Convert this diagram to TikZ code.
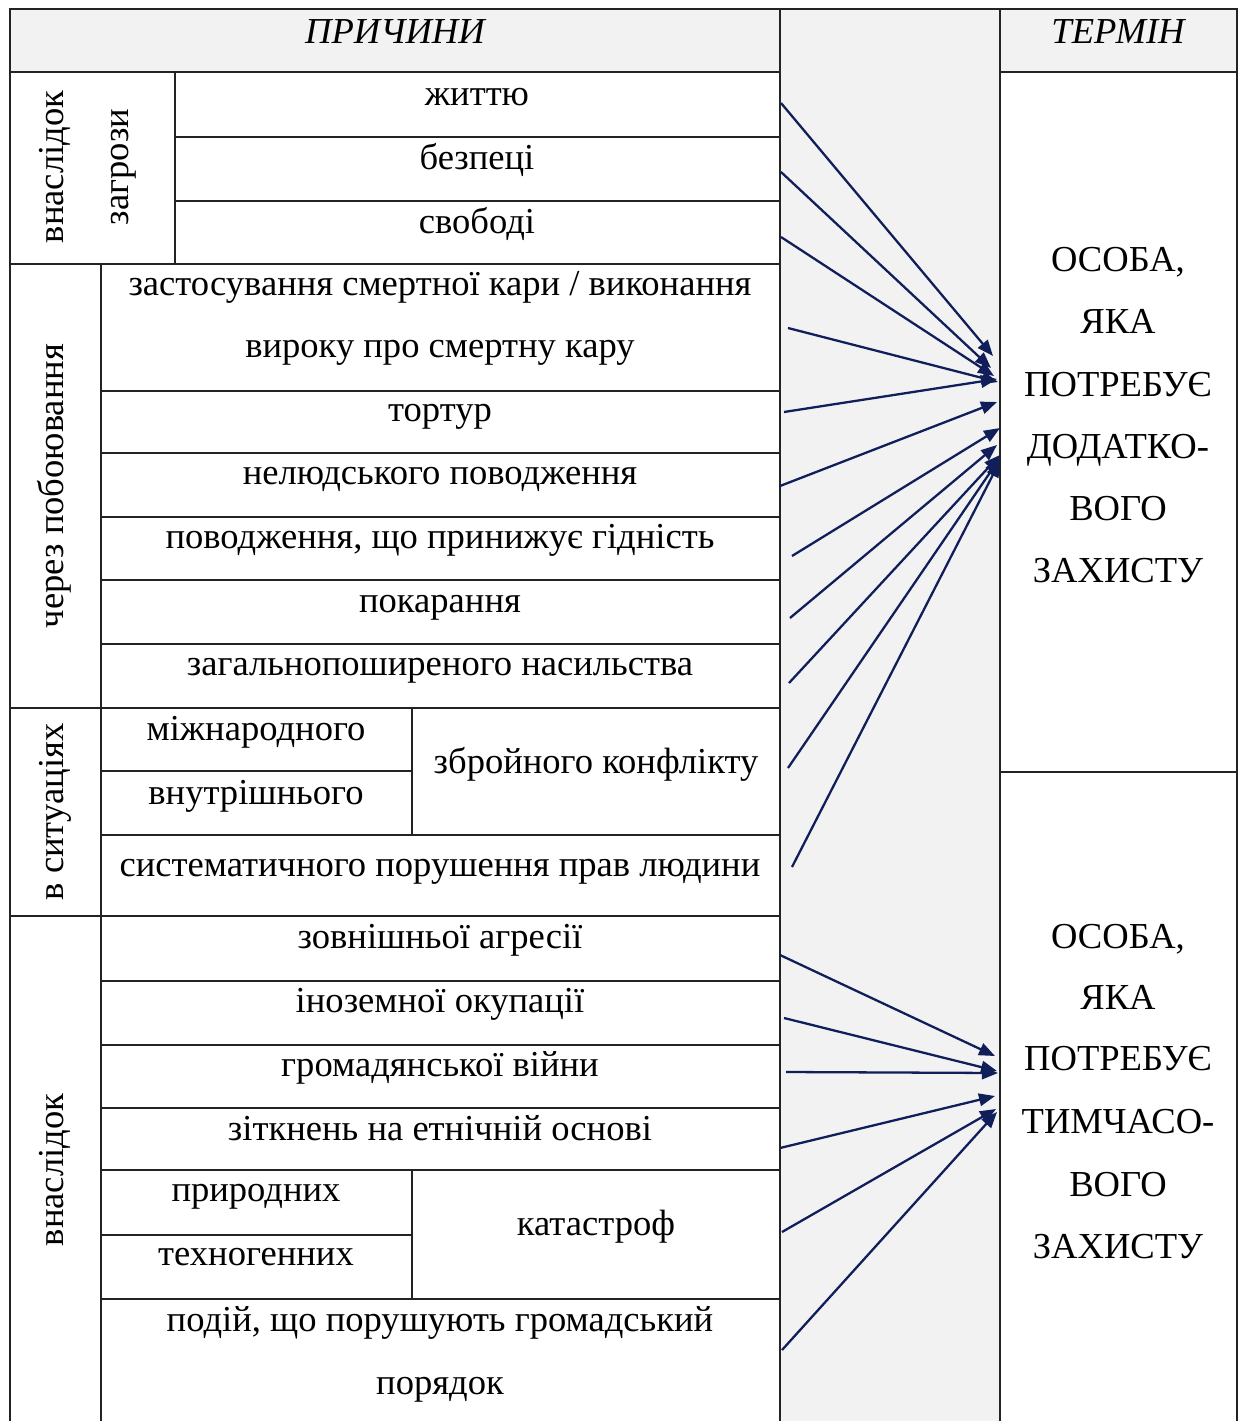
\documentclass[tikz,border=0pt]{standalone}
\usepackage{fontspec}
\setmainfont{Liberation Serif}
\usetikzlibrary{arrows.meta}
\definecolor{gridline}{RGB}{35,35,35}
\definecolor{cellgrey}{RGB}{242,242,242}
\definecolor{arrowblue}{RGB}{16,30,90}

\begin{document}
\begin{tikzpicture}[x=0.01cm,y=-0.01cm,
  rule/.style={draw=gridline,line width=0.7pt},
  celltext/.style={anchor=base,inner sep=0pt,font=\fontsize{10.4}{12}\selectfont},
  sidetext/.style={celltext,rotate=90},
  headtext/.style={celltext,font=\fontsize{10.4}{12}\selectfont\itshape},
  link/.style={draw=arrowblue,line width=0.65pt,-{Triangle[length=1.6mm,width=1.25mm]}}
]
\useasboundingbox (0,0) rectangle (1240,1421);
\fill[white] (0,0) rectangle (1240,1421);

% shaded header cells and the middle column
\fill[cellgrey] (10,9) rectangle (780,72);
\fill[cellgrey] (780,9) rectangle (1000,1421);
\fill[cellgrey] (1000,9) rectangle (1237,72);

% table frame (the table runs on past the lower edge)
\draw[rule] (10,1421) -- (10,9) -- (1237,9) -- (1237,1421);
\draw[rule] (780,9) -- (780,1421);
\draw[rule] (1000,9) -- (1000,1421);
\draw[rule] (10,72) -- (780,72);
\draw[rule] (1000,72) -- (1237,72);
\draw[rule] (1000,772) -- (1237,772);

% group borders
\foreach \y in {264,708,916} \draw[rule] (10,\y) -- (780,\y);

% first group
\draw[rule] (175,72) -- (175,264);
\foreach \y in {137,201} \draw[rule] (175,\y) -- (780,\y);

% remaining groups
\draw[rule] (101,264) -- (101,1421);
\foreach \y in {391,453,517,580,644,835,981,1045,1108,1170,1299} \draw[rule] (101,\y) -- (780,\y);
\draw[rule] (101,771) -- (412,771);
\draw[rule] (412,708) -- (412,835);
\draw[rule] (101,1235) -- (412,1235);
\draw[rule] (412,1170) -- (412,1299);

% headers
\node[headtext] (hcause) at (395,44) {ПРИЧИНИ};
\node[headtext] (hterm) at (1118,44) {ТЕРМІН};

% rotated group labels
\node[sidetext] (g1a) at (64,167) {внаслідок};
\node[sidetext] (g1b) at (128,167) {загрози};
\node[sidetext] (g2) at (63,486) {через побоювання};
\node[sidetext] (g3) at (63,812) {в ситуаціях};
\node[sidetext] (g4) at (63,1170) {внаслідок};

% row texts
\node[celltext] (r1) at (477,105) {життю};
\node[celltext] (r2) at (477,169) {безпеці};
\node[celltext] (r3) at (477,233) {свободі};
\node[celltext] (r4a) at (440,295) {застосування смертної кари / виконання};
\node[celltext] (r4b) at (440,357) {вироку про смертну кару};
\node[celltext] (r5) at (440,421) {тортур};
\node[celltext] (r6) at (440,484) {нелюдського поводження};
\node[celltext] (r7) at (440,548) {поводження, що принижує гідність};
\node[celltext] (r8) at (440,612) {покарання};
\node[celltext] (r9) at (440,675) {загальнопоширеного насильства};
\node[celltext] (r10a) at (256,740) {міжнародного};
\node[celltext] (r10b) at (256,804) {внутрішнього};
\node[celltext] (r10c) at (596,773) {збройного конфлікту};
\node[celltext] (r11) at (440,876) {систематичного порушення прав людини};
\node[celltext] (r12) at (440,948) {зовнішньої агресії};
\node[celltext] (r13) at (440,1012) {іноземної окупації};
\node[celltext] (r14) at (440,1076) {громадянської війни};
\node[celltext] (r15) at (440,1140) {зіткнень на етнічній основі};
\node[celltext] (r16a) at (256,1201) {природних};
\node[celltext] (r16b) at (256,1265) {техногенних};
\node[celltext] (r16c) at (596,1235) {катастроф};
\node[celltext] (r17a) at (440,1331) {подій, що порушують громадський};
\node[celltext] (r17b) at (440,1394) {порядок};

% term cells
\node[celltext] (ta1) at (1118,271) {ОСОБА,};
\node[celltext] (ta2) at (1118,333) {ЯКА};
\node[celltext] (ta3) at (1118,396) {ПОТРЕБУЄ};
\node[celltext] (ta4) at (1118,458) {ДОДАТКО-};
\node[celltext] (ta5) at (1118,520) {ВОГО};
\node[celltext] (ta6) at (1118,582) {ЗАХИСТУ};
\node[celltext] (tb1) at (1118,948) {ОСОБА,};
\node[celltext] (tb2) at (1118,1009) {ЯКА};
\node[celltext] (tb3) at (1118,1070) {ПОТРЕБУЄ};
\node[celltext] (tb4) at (1118,1133) {ТИМЧАСО-};
\node[celltext] (tb5) at (1118,1196) {ВОГО};
\node[celltext] (tb6) at (1118,1258) {ЗАХИСТУ};

% connector ends
\coordinate (s1) at (781,103);   \coordinate (e1) at (993,356);
\coordinate (s2) at (781,172);   \coordinate (e2) at (991,368);
\coordinate (s3) at (781,237);   \coordinate (e3) at (994,376);
\coordinate (s4) at (788,328);   \coordinate (e4) at (998,382);
\coordinate (s5) at (784,412);   \coordinate (e5) at (997,379);
\coordinate (s6) at (780,486);   \coordinate (e6) at (997,402);
\coordinate (s7) at (792,556);   \coordinate (e7) at (1000,428);
\coordinate (s8) at (790,618);   \coordinate (e8) at (997,445);
\coordinate (s9) at (789,683);   \coordinate (e9) at (1000,455);
\coordinate (s10) at (788,768);  \coordinate (e10) at (1000,458);
\coordinate (s11) at (792,867);  \coordinate (e11) at (1000,461);
\coordinate (s12) at (780,955);  \coordinate (e12) at (995,1056);
\coordinate (s13) at (784,1018); \coordinate (e13) at (997,1071);
\coordinate (s14) at (786,1072); \coordinate (e14) at (998,1073);
\coordinate (s15) at (780,1148); \coordinate (e15) at (995,1096);
\coordinate (s16) at (782,1232); \coordinate (e16) at (996,1109);
\coordinate (s17) at (782,1350); \coordinate (e17) at (997,1112);

% connectors
\foreach \i in {1,...,17} \draw[link] (s\i) -- (e\i);
\end{tikzpicture}
\end{document}
